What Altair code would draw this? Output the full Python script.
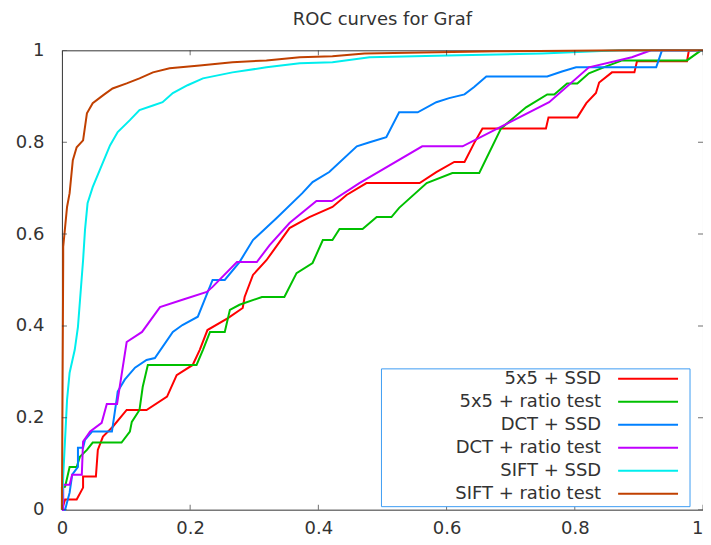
import altair as alt
import pandas as pd

names = ["5x5 + SSD", "5x5 + ratio test", "DCT + SSD", "DCT + ratio test",
         "SIFT + SSD", "SIFT + ratio test"]
colors = ["#ff0000", "#00c000", "#0080ff", "#c000ff", "#00eeee", "#c04000"]
title_text = ["ROC curves for Graf"]

red_fpr = [0, 0.005, 0.023, 0.033, 0.033, 0.053, 0.056, 0.064, 0.079, 0.101, 0.132, 0.164,
           0.179, 0.204, 0.215, 0.227, 0.259, 0.282, 0.285, 0.298, 0.319, 0.355, 0.386,
           0.422, 0.444, 0.475, 0.558, 0.584, 0.612, 0.628, 0.643, 0.656, 0.755, 0.759,
           0.804, 0.818, 0.833, 0.838, 0.858, 0.893, 0.897, 0.975, 0.978, 1.0]
red_tpr = [0, 0.022, 0.022, 0.048, 0.072, 0.072, 0.130, 0.159, 0.180, 0.217, 0.217, 0.246,
           0.293, 0.315, 0.348, 0.391, 0.417, 0.439, 0.463, 0.511, 0.543, 0.613, 0.637,
           0.659, 0.685, 0.711, 0.711, 0.735, 0.757, 0.757, 0.798, 0.830, 0.830, 0.854,
           0.854, 0.885, 0.907, 0.930, 0.952, 0.952, 0.976, 0.976, 1.0, 1.0]

green_fpr = [0, 0, 0.005, 0.012, 0.023, 0.028, 0.039, 0.048, 0.093, 0.106, 0.109, 0.121,
             0.126, 0.134, 0.210, 0.220, 0.231, 0.254, 0.262, 0.277, 0.312, 0.347, 0.366,
             0.391, 0.407, 0.422, 0.433, 0.469, 0.491, 0.514, 0.526, 0.569, 0.609, 0.651,
             0.685, 0.724, 0.757, 0.768, 0.788, 0.804, 0.822, 0.849, 0.874, 0.975, 0.997, 1.0]
green_tpr = [0, 0.048, 0.050, 0.093, 0.093, 0.115, 0.130, 0.146, 0.146, 0.170, 0.191, 0.217,
             0.267, 0.315, 0.315, 0.348, 0.387, 0.387, 0.435, 0.446, 0.463, 0.463, 0.515,
             0.537, 0.587, 0.587, 0.611, 0.611, 0.637, 0.637, 0.657, 0.711, 0.733, 0.733,
             0.830, 0.876, 0.904, 0.904, 0.928, 0.928, 0.950, 0.965, 0.978, 0.978, 1.0, 1.0]

blue_fpr = [0, 0.005, 0.012, 0.016, 0.025, 0.025, 0.033, 0.036, 0.047, 0.078, 0.086, 0.087,
            0.098, 0.114, 0.132, 0.145, 0.173, 0.188, 0.212, 0.235, 0.254, 0.277, 0.298,
            0.335, 0.375, 0.391, 0.417, 0.460, 0.480, 0.506, 0.526, 0.555, 0.584, 0.604,
            0.628, 0.643, 0.662, 0.757, 0.780, 0.802, 0.927, 0.936, 1.0]
blue_tpr = [0, 0, 0.037, 0.076, 0.093, 0.135, 0.135, 0.152, 0.170, 0.170, 0.246, 0.257,
            0.283, 0.309, 0.326, 0.330, 0.387, 0.402, 0.420, 0.500, 0.500, 0.539, 0.587,
            0.635, 0.689, 0.713, 0.735, 0.791, 0.800, 0.811, 0.865, 0.865, 0.887, 0.896,
            0.904, 0.920, 0.943, 0.943, 0.954, 0.963, 0.963, 1.0, 1.0]

purple_fpr = [0, 0.002, 0.002, 0.012, 0.016, 0.031, 0.033, 0.044, 0.062, 0.070, 0.086, 0.101,
              0.125, 0.153, 0.188, 0.226, 0.235, 0.273, 0.304, 0.324, 0.355, 0.397, 0.421,
              0.464, 0.562, 0.625, 0.760, 0.822, 0.889, 0.919, 1.0]
purple_tpr = [0, 0, 0.054, 0.054, 0.076, 0.076, 0.148, 0.170, 0.189, 0.230, 0.230, 0.365,
              0.387, 0.441, 0.457, 0.474, 0.485, 0.539, 0.539, 0.576, 0.624, 0.672, 0.672,
              0.711, 0.791, 0.791, 0.887, 0.963, 0.985, 1.0, 1.0]

cyan_fpr = [0, 0.002, 0.008, 0.012, 0.020, 0.025, 0.033, 0.036, 0.040, 0.048, 0.059, 0.075,
            0.087, 0.106, 0.121, 0.142, 0.157, 0.173, 0.196, 0.220, 0.266, 0.319, 0.371,
            0.422, 0.480, 0.620, 0.749, 0.869, 1.0]
cyan_tpr = [0, 0.072, 0.239, 0.298, 0.348, 0.398, 0.543, 0.609, 0.667, 0.702, 0.739, 0.793,
            0.822, 0.848, 0.870, 0.880, 0.887, 0.907, 0.924, 0.939, 0.952, 0.963, 0.972,
            0.974, 0.985, 0.989, 0.993, 1.0, 1.0]

brown_fpr = [0, 0.002, 0.002, 0.008, 0.012, 0.017, 0.023, 0.033, 0.039, 0.048, 0.064, 0.079,
             0.101, 0.121, 0.142, 0.168, 0.215, 0.266, 0.319, 0.371, 0.422, 0.472, 0.678,
             0.885, 1.0]
brown_tpr = [0, 0.543, 0.572, 0.659, 0.689, 0.761, 0.789, 0.804, 0.863, 0.885, 0.902, 0.917,
             0.928, 0.939, 0.952, 0.961, 0.967, 0.974, 0.978, 0.985, 0.987, 0.993, 0.998,
             1.0, 1.0]

tick_vals = [0, 0.2, 0.4, 0.6, 0.8, 1]

series = [(names[0], red_fpr, red_tpr), (names[1], green_fpr, green_tpr),
          (names[2], blue_fpr, blue_tpr), (names[3], purple_fpr, purple_tpr),
          (names[4], cyan_fpr, cyan_tpr), (names[5], brown_fpr, brown_tpr)]

rows = []
for name, fx, fy in series:
    for i, (a, b) in enumerate(zip(fx, fy)):
        rows.append({"series": name, "fpr": a, "tpr": b, "idx": i})
df = pd.DataFrame(rows)

FONT = "DejaVu Sans"
TXT = "#333333"

xscale = alt.Scale(domain=[0, 1], nice=False, zero=False)
yscale = alt.Scale(domain=[0, 1], nice=False, zero=False)
xaxis = alt.Axis(values=tick_vals, format="~g", tickSize=0, domain=False, grid=False,
                 labelFontSize=18, labelFont=FONT, labelColor=TXT, labelPadding=10,
                 labelAlign=alt.ExprRef(expr="datum.value == 1 ? 'right' : 'center'"),
                 labelFlush=False, labelOverlap=False, title=None)
yaxis = alt.Axis(values=tick_vals, format="~g", tickSize=0, domain=False, grid=False,
                 labelFontSize=18, labelFont=FONT, labelColor=TXT, labelPadding=18,
                 labelFlush=False, labelOverlap=False, title=None)

line_layers = []
for name, col in zip(names, colors):
    line_layers.append(
        alt.Chart(df).transform_filter(alt.datum.series == name)
        .mark_line(color=col, strokeWidth=2, interpolate="linear")
        .encode(x=alt.X("fpr:Q", scale=xscale, axis=xaxis),
                y=alt.Y("tpr:Q", scale=yscale, axis=yaxis),
                order=alt.Order("idx:Q"))
    )

vt = pd.DataFrame({"x": tick_vals * 2, "y": [0] * 6 + [1] * 6})
ht = pd.DataFrame({"x": [0] * 6 + [1] * 6, "y": tick_vals * 2})
vticks = alt.Chart(vt).mark_tick(orient="vertical", size=10, thickness=1, color=TXT,
                                 clip=True).encode(x="x:Q", y="y:Q")
hticks = alt.Chart(ht).mark_tick(orient="horizontal", size=10, thickness=1, color=TXT,
                                 clip=True).encode(x="x:Q", y="y:Q")

main = alt.layer(*line_layers, vticks, hticks)

leg_df = pd.DataFrame({"series": names})
ypt = alt.Y("series:N", sort=names,
            scale=alt.Scale(type="point", range=[329, 444], padding=0), axis=None)

box = alt.Chart(pd.DataFrame({"k": [0]})).mark_rect(
    fill="white", stroke="#3d9df3", strokeWidth=1
).encode(x=alt.value(320), x2=alt.value(629), y=alt.value(319), y2=alt.value(457))

leg_text = alt.Chart(leg_df).mark_text(
    align="right", baseline="middle", fontSize=18, font=FONT, color=TXT
).encode(x=alt.value(540), y=ypt, text="series:N")

leg_rules = alt.Chart(leg_df).mark_rule(strokeWidth=2).encode(
    x=alt.value(557), x2=alt.value(617), y=ypt,
    color=alt.Color("series:N", scale=alt.Scale(domain=names, range=colors), legend=None)
)

title = alt.Chart(pd.DataFrame({"t": title_text})).mark_text(
    align="center", baseline="alphabetic", fontSize=18, font=FONT, color=TXT
).encode(x=alt.value(321), y=alt.value(-25), text="t:N")

chart = alt.layer(main, box, leg_text, leg_rules, title).resolve_scale(y="independent").properties(
    width=642, height=460,
    padding={"left": 54, "top": 42, "right": 0, "bottom": 27},
    autosize=alt.AutoSizeParams(type="none"),
).configure_view(stroke=TXT, strokeWidth=1)

chart.save("out.html", embed_options={"renderer": "svg", "actions": False})
